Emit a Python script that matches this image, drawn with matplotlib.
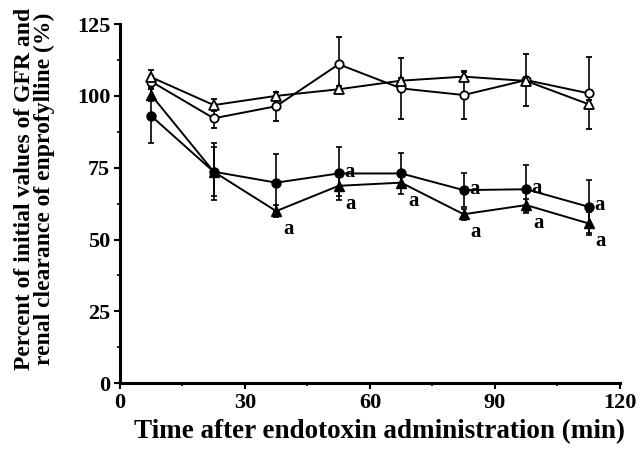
import numpy as np
import matplotlib.pyplot as plt
from matplotlib.ticker import MultipleLocator

plt.rcParams['font.family'] = ['Liberation Serif', 'DejaVu Serif']
plt.rcParams['font.weight'] = 'bold'

# --- Data: % of initial value vs. time after endotoxin ---
time_min = [7.5, 22.5, 37.5, 52.5, 67.5, 82.5, 97.5, 112.5]

# control groups (open symbols)
ctrl_gfr = [105.0, 92.2, 96.4, 111.0, 102.6, 100.3, 105.5, 100.9]
ctrl_gfr_sd = [2.0, 3.5, 5.0, 9.5, 10.5, 8.3, 9.0, 12.5]
ctrl_clr = [106.5, 96.8, 100.0, 102.3, 105.3, 106.7, 105.2, 97.1]
ctrl_clr_sd = [2.5, 2.0, 1.5, 1.0, 1.0, 1.5, 1.5, 1.5]

# endotoxin groups (filled symbols)
etx_gfr = [93.0, 73.6, 69.8, 73.0, 73.0, 67.2, 67.5, 61.4]
etx_gfr_sd = [9.3, 10.0, 10.0, 9.3, 7.0, 6.0, 8.4, 9.3]
etx_clr = [100.3, 73.6, 59.9, 68.7, 69.8, 58.8, 62.0, 55.6]
etx_clr_sd = [2.0, 8.6, 2.0, 3.7, 2.0, 2.0, 2.0, 4.0]

# points marked "a" (significant vs. control)
sig_marks = [('gfr', 3), ('gfr', 5), ('gfr', 6), ('gfr', 7),
             ('clr', 2), ('clr', 3), ('clr', 4), ('clr', 5), ('clr', 6), ('clr', 7)]

fig = plt.figure(figsize=(6.4, 4.54), dpi=100)
ax = fig.add_axes([0.1875, 0.156, 0.781, 0.791])

eb = dict(color='black', lw=1.4, capsize=2.5, elinewidth=1.2, capthick=1.2)
ax.errorbar(time_min, ctrl_gfr, yerr=ctrl_gfr_sd, marker='o', ms=6,
            mfc='white', mec='black', mew=1.3, zorder=3, **eb)
ax.errorbar(time_min, ctrl_clr, yerr=ctrl_clr_sd, marker='^', ms=7,
            mfc='white', mec='black', mew=1.3, zorder=3, **eb)
ax.errorbar(time_min, etx_gfr, yerr=etx_gfr_sd, marker='o', ms=6.5,
            mfc='black', mec='black', zorder=3, **eb)
ax.errorbar(time_min, etx_clr, yerr=etx_clr_sd, marker='^', ms=7,
            mfc='black', mec='black', zorder=3, **eb)

for series, i in sig_marks:
    if series == 'gfr':
        ax.annotate('a', (time_min[i], etx_gfr[i]), xytext=(4, 1),
                    textcoords='offset points', fontsize=15, fontweight='bold',
                    va='center', ha='left')
    else:
        ax.annotate('a', (time_min[i], etx_clr[i]), xytext=(5, -13),
                    textcoords='offset points', fontsize=15, fontweight='bold',
                    va='center', ha='left')

ax.set_xlim(0, 120)
ax.set_ylim(0, 125)
ax.xaxis.set_major_locator(MultipleLocator(30))
ax.xaxis.set_minor_locator(MultipleLocator(15))
ax.yaxis.set_major_locator(MultipleLocator(25))
ax.yaxis.set_minor_locator(MultipleLocator(12.5))

for side in ['top', 'right']:
    ax.spines[side].set_visible(False)
for side in ['left', 'bottom']:
    ax.spines[side].set_linewidth(2.2)

ax.tick_params(which='major', length=4, width=1.5, labelsize=16, pad=3)
ax.tick_params(which='minor', length=2, width=1.2)

ax.set_xlabel('Time after endotoxin administration (min)', fontsize=19.5,
              fontweight='bold')
ax.set_ylabel('Percent of initial values of GFR and\nrenal clearance of enprofylline (%)',
              fontsize=17, fontweight='bold', linespacing=0.95)
ax.xaxis.set_label_coords(0.52, -0.1)
ax.yaxis.set_label_coords(-0.13, 0.54)

fig.savefig('out.png', dpi=100)
